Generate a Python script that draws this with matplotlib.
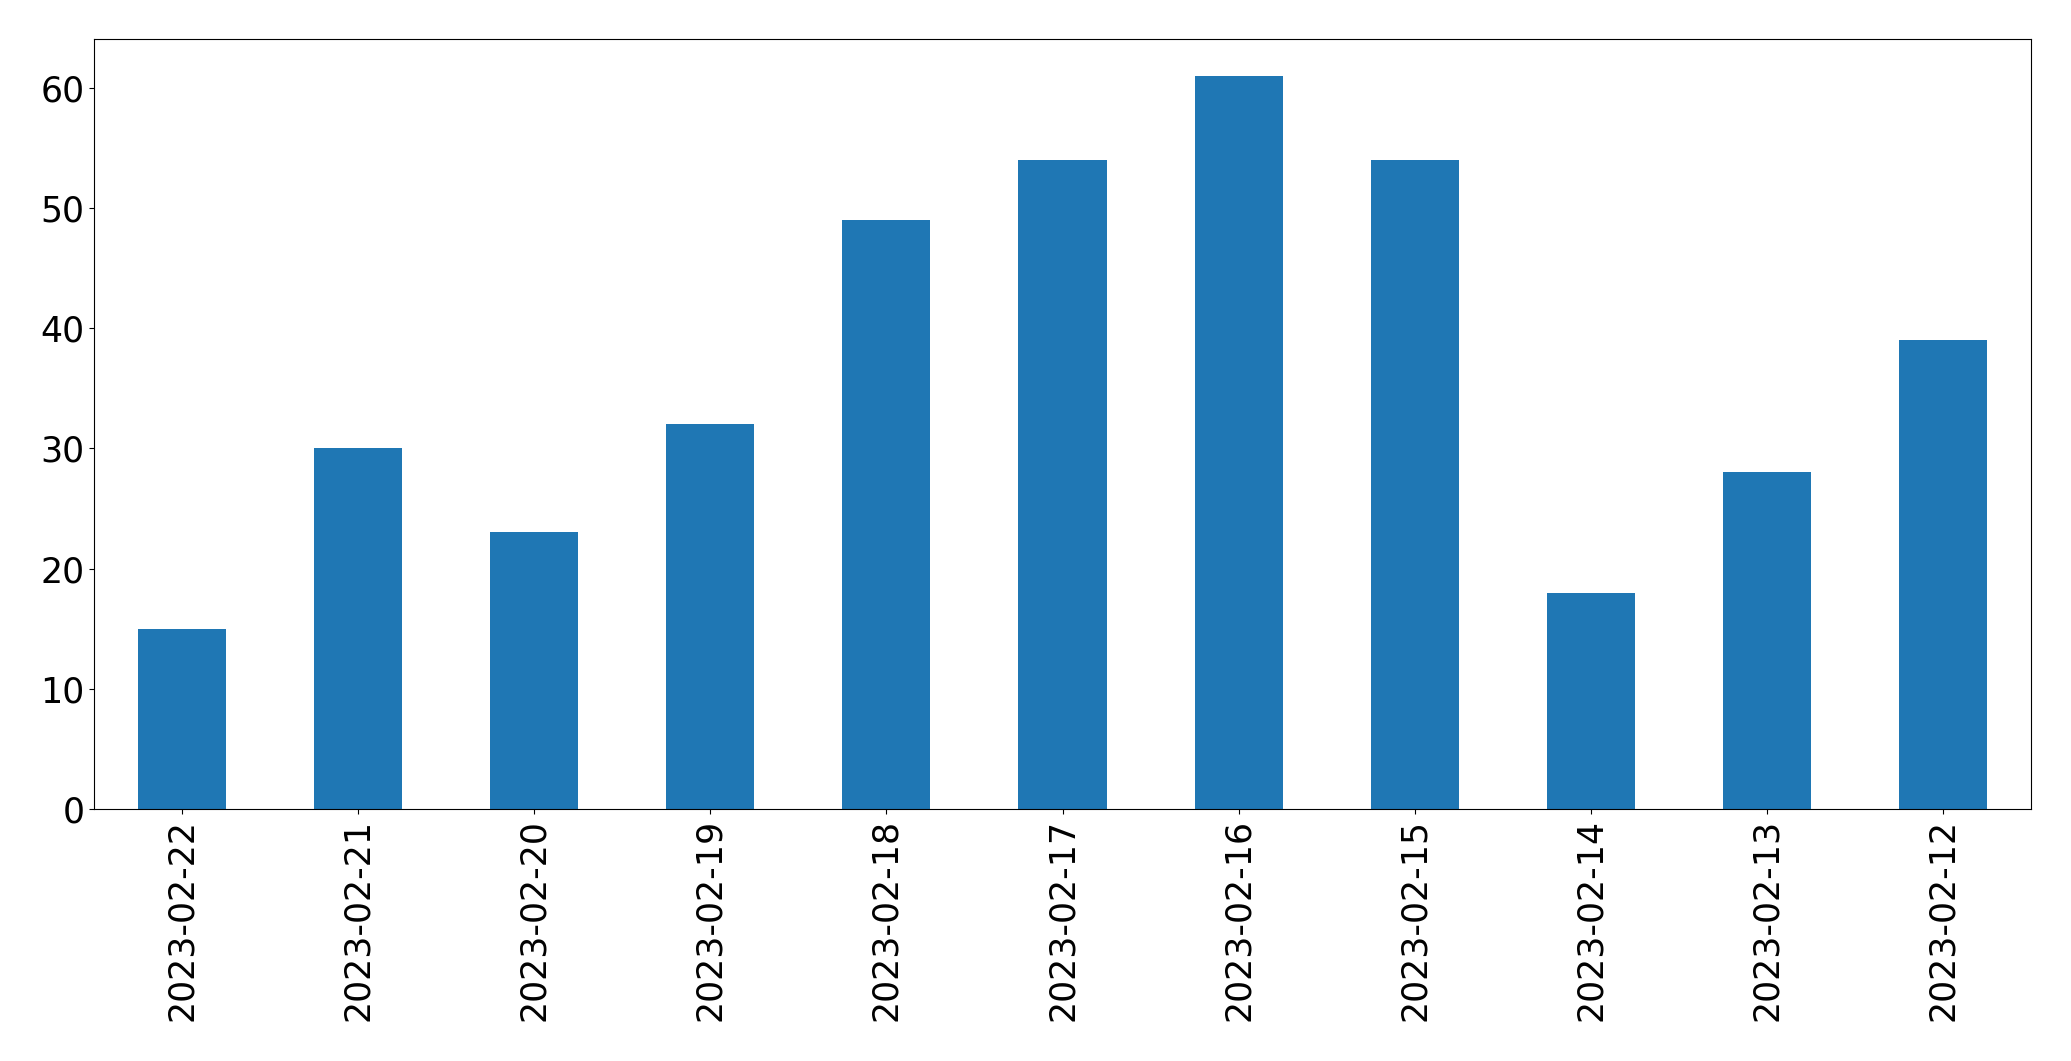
import matplotlib
matplotlib.use("Agg")
import matplotlib.pyplot as plt
import pandas as pd

# Datas e contagens
datas = ["2023-02-22", "2023-02-21", "2023-02-20", "2023-02-19", "2023-02-18",
         "2023-02-17", "2023-02-16", "2023-02-15", "2023-02-14", "2023-02-13",
         "2023-02-12"]
contagens = [15, 30, 23, 32, 49, 54, 61, 54, 18, 28, 39]

serie = pd.Series(contagens, index=datas)

fig, ax = plt.subplots(figsize=(20.71, 10.61), dpi=100)
serie.plot(kind="bar", ax=ax, color="#1f77b4")
ax.tick_params(axis="both", labelsize=25)

fig.subplots_adjust(left=94 / 2071, right=2031 / 2071, top=1 - 39 / 1061, bottom=1 - 809 / 1061)
fig.savefig("out.png", dpi=100)
